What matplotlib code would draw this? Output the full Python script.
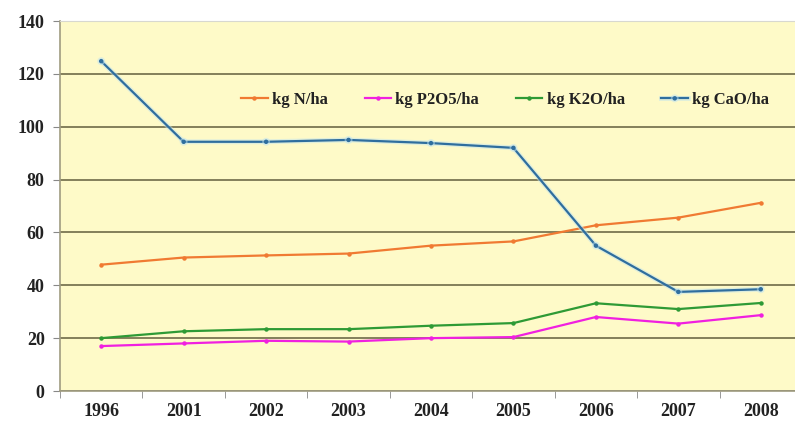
import matplotlib
matplotlib.use("Agg")
import matplotlib.pyplot as plt
import matplotlib.patheffects as pe
import numpy as np

years = ["1996", "2001", "2002", "2003", "2004", "2005", "2006", "2007", "2008"]
n_ha = [47.8, 50.5, 51.3, 52.0, 55.0, 56.6, 62.7, 65.6, 71.2]
p2o5_ha = [17.0, 18.0, 19.0, 18.7, 20.0, 20.4, 28.0, 25.5, 28.7]
k2o_ha = [20.0, 22.6, 23.4, 23.4, 24.7, 25.7, 33.2, 31.0, 33.3]
cao_ha = [124.8, 94.3, 94.3, 95.0, 93.8, 92.0, 55.0, 37.5, 38.5]

series = [
    ("kg N/ha", n_ha, "#F07A32"),
    ("kg P2O5/ha", p2o5_ha, "#F020E0"),
    ("kg K2O/ha", k2o_ha, "#2E9A35"),
    ("kg CaO/ha", cao_ha, "#2F6E9E"),
]

plt.rcParams['font.family'] = ['Liberation Serif', 'DejaVu Serif']

fig = plt.figure(figsize=(7.95, 4.33), dpi=100)
ax = fig.add_axes([60/795, 42/433, 742/795, 370/433])
ax.set_facecolor("#FEFAC8")

x = np.arange(len(years))
for label, vals, col in series:
    ax.plot(x, vals, color=col, lw=1.6, marker="o", ms=2.2, label=label,
            path_effects=[pe.Stroke(linewidth=3.5, foreground="#BFE3F0", alpha=0.5), pe.Normal()]
            if label == "kg CaO/ha" else None)

ax.set_ylim(0, 140)
ax.set_yticks(range(0, 141, 20))
ax.set_xlim(-0.5, len(years) - 0.5)
ax.set_xticks(x)
ax.set_xticklabels(years)
ax.set_xticks(np.arange(-0.5, len(years), 1.0), minor=True)
ax.tick_params(axis="x", which="major", length=0, pad=9)
ax.tick_params(axis="x", which="minor", length=5, color="#888888", direction="out")
ax.tick_params(axis="y", length=5, color="#888888", direction="out", pad=6)
for t in ax.get_xticklabels() + ax.get_yticklabels():
    t.set_fontweight("bold")
    t.set_fontsize(13)
    t.set_color("#222222")

ax.grid(axis="y", color="#6E6A48", lw=1.2)
ax.set_axisbelow(True)
for s in ["left", "bottom"]:
    ax.spines[s].set_color("#A09C80")
    ax.spines[s].set_linewidth(1.2)
ax.spines["top"].set_color("#D8D8D0")
ax.spines["right"].set_visible(False)

leg = ax.legend(loc="center", bbox_to_anchor=(0.6, 0.786), ncol=4, frameon=False,
                handlelength=1.6, columnspacing=2.2, handletextpad=0.25,
                prop={"weight": "bold", "size": 12})
for t in leg.get_texts():
    t.set_color("#222222")

fig.savefig("out.png", dpi=100)
